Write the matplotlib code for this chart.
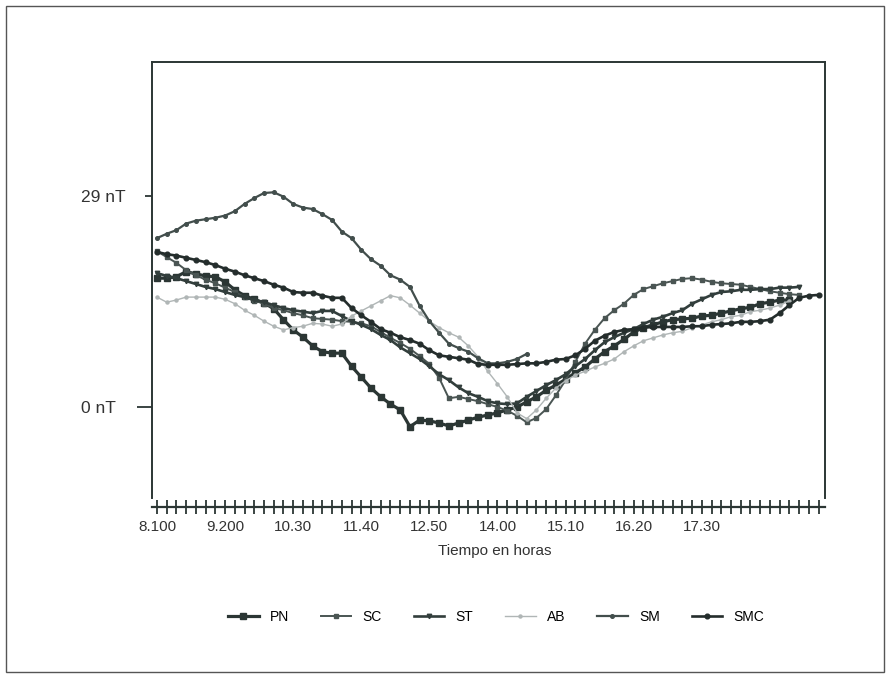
import matplotlib
matplotlib.use("Agg")
import matplotlib.pyplot as plt
from matplotlib.patches import Rectangle

plt.rcParams['font.family'] = ['Liberation Sans', 'DejaVu Sans']

# 10-minute samples starting at 8:10
pn = [17.7, 17.7, 17.9, 18.6, 18.3, 18.0, 17.9, 17.2, 16.1, 15.3, 14.8, 14.3, 13.5, 12.0,
      10.6, 9.6, 8.4, 7.6, 7.4, 7.4, 5.6, 4.1, 2.6, 1.4, 0.4, -0.4, -2.7, -1.8, -1.9, -2.2,
      -2.6, -2.2, -1.8, -1.4, -1.1, -0.8, -0.4, 0.0, 0.7, 1.4, 2.3, 3.0, 3.8, 4.7, 5.5, 6.6,
      7.6, 8.4, 9.3, 10.3, 10.9, 11.3, 11.7, 12.0, 12.1, 12.2, 12.5, 12.6, 12.9, 13.2, 13.5,
      13.7, 14.2, 14.4, 14.7, 14.7]
sc = [21.4, 20.6, 19.8, 18.8, 18.1, 17.5, 17.0, 16.4, 15.8, 15.1, 14.6, 14.2, 13.6, 13.3,
      12.9, 12.6, 12.2, 12.1, 12.0, 11.8, 11.7, 11.5, 11.1, 10.3, 9.5, 8.8, 8.0, 7.0, 5.9,
      4.0, 1.2, 1.4, 1.1, 0.8, 0.4, 0.0, -0.5, -1.2, -2.1, -1.5, -0.3, 1.6, 3.7, 6.2, 8.7,
      10.6, 12.2, 13.3, 14.2, 15.4, 16.2, 16.6, 17.0, 17.3, 17.6, 17.7, 17.5, 17.2, 17.0,
      16.9, 16.8, 16.5, 16.2, 15.9, 15.7, 15.5, 15.4]
st = [18.4, 18.0, 17.7, 17.3, 16.9, 16.5, 16.2, 15.8, 15.4, 15.1, 14.7, 14.4, 14.0, 13.6,
      13.3, 13.1, 12.9, 13.2, 13.2, 12.5, 11.8, 11.3, 10.7, 9.9, 9.2, 8.2, 7.4, 6.6, 5.6,
      4.5, 3.7, 2.7, 1.9, 1.4, 0.8, 0.5, 0.4, 0.5, 1.4, 2.2, 3.0, 3.7, 4.5, 5.6, 6.6, 7.8,
      8.9, 9.6, 10.2, 10.7, 11.4, 12.0, 12.4, 12.9, 13.3, 14.2, 14.8, 15.4, 15.8, 15.9,
      16.1, 16.1, 16.2, 16.2, 16.4, 16.4, 16.5]
ab = [15.1, 14.4, 14.7, 15.1, 15.1, 15.1, 15.1, 14.8, 14.2, 13.3, 12.6, 11.8, 11.1, 10.6,
      10.9, 11.1, 11.5, 11.4, 11.1, 11.4, 12.5, 13.2, 13.9, 14.6, 15.3, 15.0, 14.0, 12.9,
      11.8, 10.9, 10.2, 9.6, 8.4, 6.9, 4.9, 3.2, 1.4, -0.8, -1.6, -0.4, 1.2, 2.6, 3.6, 4.4,
      4.9, 5.5, 6.0, 6.6, 7.6, 8.4, 9.1, 9.5, 9.9, 10.2, 10.4, 10.9, 11.3, 11.7, 12.0, 12.4,
      12.6, 13.1, 13.3, 13.6, 14.0, 14.6]
sm = [23.2, 23.8, 24.3, 25.2, 25.6, 25.8, 26.0, 26.3, 26.9, 27.9, 28.7, 29.4, 29.5, 28.9,
      27.9, 27.4, 27.2, 26.5, 25.7, 24.1, 23.2, 21.6, 20.3, 19.4, 18.1, 17.5, 16.5, 13.9,
      11.8, 10.2, 8.7, 8.1, 7.6, 6.7, 6.0, 6.0, 6.2, 6.6, 7.3]
smc = [21.3, 21.0, 20.8, 20.5, 20.2, 19.9, 19.5, 19.0, 18.6, 18.1, 17.7, 17.3, 16.8, 16.4,
       15.8, 15.7, 15.7, 15.3, 15.0, 15.0, 13.6, 12.6, 11.7, 10.7, 10.2, 9.6, 9.2, 8.7, 7.8,
       7.1, 6.9, 6.7, 6.5, 5.9, 5.8, 5.8, 5.8, 5.9, 6.0, 6.0, 6.2, 6.5, 6.6, 7.1, 8.0, 9.1,
       9.8, 10.3, 10.6, 10.7, 10.9, 11.0, 11.0, 11.0, 11.0, 11.1, 11.1, 11.3, 11.4, 11.5,
       11.7, 11.7, 11.8, 12.0, 12.9, 14.0, 15.0, 15.3, 15.4]

n_ticks = 69
time_labels = ['8.100', '9.200', '10.30', '11.40', '12.50', '14.00', '15.10', '16.20', '17.30']
label_step = 7
y_ticks = [0, 29]
y_labels = ['0 nT', '29 nT']

dark = '#2b3634'
series = [
    ('PN', pn, dict(color=dark, lw=2.3, marker='s', ms=4.4)),
    ('SC', sc, dict(color='#4a5553', lw=1.4, marker='s', ms=2.6)),
    ('ST', st, dict(color='#323e3c', lw=1.9, marker='v', ms=3.2)),
    ('AB', ab, dict(color='#b0b6b6', lw=1.0, marker='o', ms=2.2)),
    ('SM', sm, dict(color='#424e4c', lw=1.6, marker='o', ms=2.6)),
    ('SMC', smc, dict(color='#242d2c', lw=1.9, marker='o', ms=3.4)),
]

fig = plt.figure(figsize=(8.9, 6.77), dpi=100)
ax = fig.add_axes([152 / 890, 1 - 498 / 677, 673 / 890, 436 / 677])

for name, vals, style in series:
    ax.plot(range(len(vals)), vals, label=name, **style)

ax.set_xlim(-0.51, 68.66)
ax.set_ylim(-12.5, 47.4)

for s in ax.spines.values():
    s.set_color(dark)
    s.set_linewidth(1.4)
ax.spines['bottom'].set_position(('outward', 6.5))
ax.spines['bottom'].set_linewidth(1.6)

xlabels = ['' for _ in range(n_ticks)]
for k, lab in enumerate(time_labels):
    xlabels[k * label_step] = lab
ax.set_xticks(range(n_ticks))
ax.set_xticklabels(xlabels, fontsize=11, color='#333')
ax.tick_params(axis='x', direction='inout', length=10, width=1.3, color=dark, pad=4)

ax.set_yticks(y_ticks)
ax.set_yticklabels(y_labels, fontsize=12.5, color='#333')
ax.tick_params(axis='y', direction='out', length=5, width=1.3, color=dark, pad=46)
for t in ax.get_yticklabels():
    t.set_horizontalalignment('left')
# the 0 nT tick is drawn longer than the 29 nT one
ax.yaxis.get_major_ticks()[0].tick1line.set_markersize(11)

ax.set_xlabel('Tiempo en horas', fontsize=11, color='#333')
ax.xaxis.set_label_coords((495 - 152) / 673, -(544 - 498) / 436)

fig.legend(loc='center', bbox_to_anchor=(496 / 890, 1 - 617 / 677), ncol=6, frameon=False,
           fontsize=10, handlelength=2.2, handletextpad=0.8, columnspacing=2.3)

fig.patches.append(Rectangle((6 / 890, 5 / 677), 878 / 890, 666 / 677, transform=fig.transFigure,
                             fill=False, edgecolor='#555', lw=1.0))

fig.savefig('out.png', dpi=100)
